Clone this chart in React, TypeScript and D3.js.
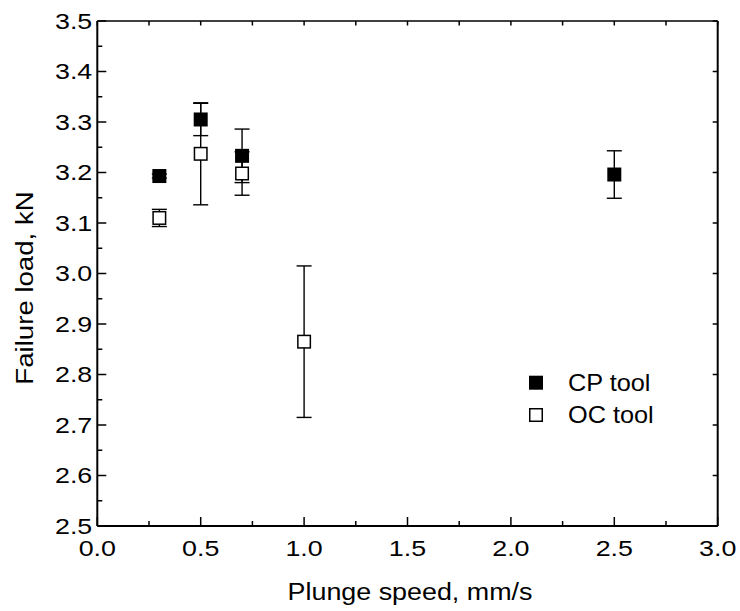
import React from "react";
import * as d3 from "d3";

const speedsCP = [0.3, 0.5, 0.7, 2.5];
const loadCP = [3.193, 3.305, 3.233, 3.196];
const errCP = [0.004, 0.032, 0.053, 0.047];

const speedsOC = [0.3, 0.5, 0.7, 1.0];
const loadOC = [3.11, 3.237, 3.198, 2.865];
const errOC = [0.017, 0.101, 0.043, 0.15];

const xTicks = [0, 0.5, 1.0, 1.5, 2.0, 2.5, 3.0];
const yTicks = [2.5, 2.6, 2.7, 2.8, 2.9, 3.0, 3.1, 3.2, 3.3, 3.4, 3.5];
const legendLabels = ["CP tool", "OC tool"];
const xTitle = "Plunge speed, mm/s";
const yTitle = "Failure load, kN";

const W = 740;
const H = 611;
const M = { left: 97.3, right: 717.7, top: 21, bottom: 526 };
const FONT = "Arial, 'Liberation Sans', sans-serif";

type TProps = {
  x: number;
  y: number;
  size: number;
  sx: number;
  anchor?: "start" | "middle" | "end";
  rotate?: boolean;
  dy?: string;
  children: React.ReactNode;
};

function T({ x, y, size, sx, anchor = "start", rotate = false, dy, children }: TProps) {
  return (
    <text
      transform={`translate(${x},${y})${rotate ? " rotate(-90)" : ""} scale(${sx},1)`}
      textAnchor={anchor}
      fontSize={size}
      dy={dy}
      fill="#000"
    >
      {children}
    </text>
  );
}

export default function App() {
  const x = d3.scaleLinear().domain([0, 3]).range([M.left, M.right]);
  const y = d3.scaleLinear().domain([2.5, 3.5]).range([M.bottom, M.top]);

  const xAll = d3.range(0, 3.0001, 0.25);
  const xMinor = xAll.filter((v) => Math.abs(v * 2 - Math.round(v * 2)) > 1e-6);
  const yMinor = d3.range(2.55, 3.5, 0.1);

  const ms = 14;
  const cap = 7.5;

  const errorBars = (xs: number[], ys: number[], es: number[], key: string) =>
    xs.map((v, i) => {
      const cx = x(v);
      const top = y(ys[i] + es[i]);
      const bot = y(ys[i] - es[i]);
      return (
        <g key={key + i} stroke="#000" strokeWidth={1.4}>
          <line x1={cx} x2={cx} y1={top} y2={bot} />
          <line x1={cx - cap} x2={cx + cap} y1={top} y2={top} />
          <line x1={cx - cap} x2={cx + cap} y1={bot} y2={bot} />
        </g>
      );
    });

  const fmt = d3.format(".1f");

  return (
    <svg width={W} height={H} style={{ position: "absolute", left: 0, top: 0, background: "#fff" }} fontFamily={FONT}>
      <rect x={0} y={0} width={W} height={H} fill="#fff" />
      {errorBars(speedsOC, loadOC, errOC, "eo")}
      {errorBars(speedsCP, loadCP, errCP, "ec")}
      {speedsOC.map((v, i) => (
        <rect key={"o" + i} x={x(v) - ms / 2 + 0.75} y={y(loadOC[i]) - ms / 2 + 0.75} width={ms - 1.5} height={ms - 1.5} fill="#fff" stroke="#000" strokeWidth={1.5} />
      ))}
      {speedsCP.map((v, i) => (
        <rect key={"c" + i} x={x(v) - ms / 2} y={y(loadCP[i]) - ms / 2} width={ms} height={ms} fill="#000" />
      ))}

      <g stroke="#000" fill="none">
        <line x1={M.left} x2={M.left} y1={M.top} y2={M.bottom} strokeWidth={2} />
        <line x1={M.right} x2={M.right} y1={M.top} y2={M.bottom} strokeWidth={2} />
        <line x1={M.left} x2={M.right} y1={M.bottom} y2={M.bottom} strokeWidth={2} />
        <line x1={M.left} x2={M.right} y1={M.top} y2={M.top} strokeWidth={1.5} />
      </g>
      <g stroke="#000" strokeWidth={1.5}>
        {yTicks.map((t) => (
          <line key={"yl" + t} x1={M.left} x2={M.left + 9} y1={y(t)} y2={y(t)} />
        ))}
        {yMinor.map((t) => (
          <line key={"ylm" + t} x1={M.left} x2={M.left + 5} y1={y(t)} y2={y(t)} />
        ))}
        {yTicks.map((t) => (
          <line key={"yr" + t} x1={M.right} x2={M.right - 5} y1={y(t)} y2={y(t)} />
        ))}
        {xTicks.map((t) => (
          <line key={"xb" + t} x1={x(t)} x2={x(t)} y1={M.bottom} y2={M.bottom - 9} />
        ))}
        {xMinor.map((t) => (
          <line key={"xbm" + t} x1={x(t)} x2={x(t)} y1={M.bottom} y2={M.bottom - 5} />
        ))}
        {xAll.map((t) => (
          <line key={"xt" + t} x1={x(t)} x2={x(t)} y1={M.top} y2={M.top + 4.5} />
        ))}
      </g>

      {yTicks.map((t) => (
        <T key={"yt" + t} x={M.left - 5} y={y(t)} size={22} sx={1.22} anchor="end" dy="0.36em">
          {fmt(t)}
        </T>
      ))}
      {xTicks.map((t) => (
        <T key={"xtl" + t} x={x(t)} y={M.bottom + 30} size={22} sx={1.22} anchor="middle">
          {fmt(t)}
        </T>
      ))}

      <T x={410} y={600} size={24} sx={1.12} anchor="middle">
        {xTitle}
      </T>
      <T x={33} y={288} size={24} sx={1.15} anchor="middle" rotate>
        {yTitle}
      </T>

      <rect x={536 - 7} y={382.7 - 7} width={14} height={14} fill="#000" />
      <rect x={536 - 6.25} y={415 - 6.25} width={12.5} height={12.5} fill="#fff" stroke="#000" strokeWidth={1.5} />
      <T x={568} y={390.5} size={23} sx={1.1}>{legendLabels[0]}</T>
      <T x={568} y={422.5} size={23} sx={1.1}>{legendLabels[1]}</T>
    </svg>
  );
}
